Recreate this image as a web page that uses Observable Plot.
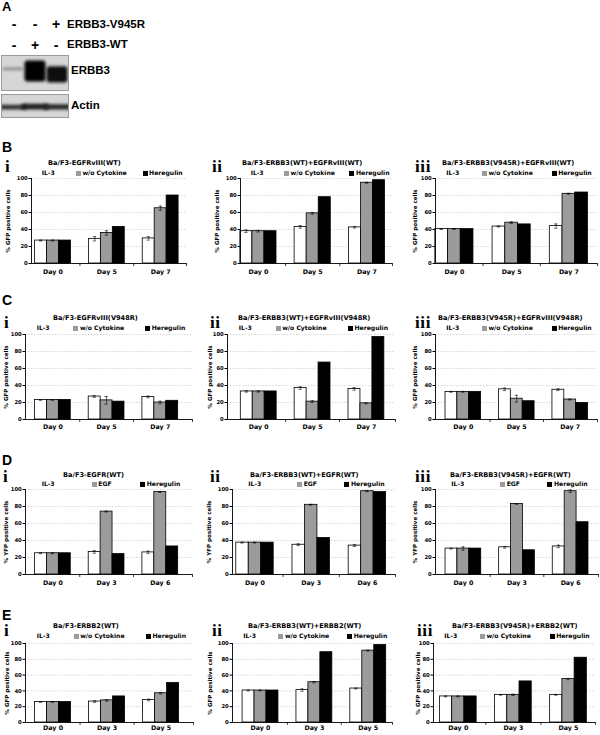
<!DOCTYPE html>
<html><head><meta charset="utf-8">
<script src="https://cdn.jsdelivr.net/npm/d3@7"></script>
<script src="https://cdn.jsdelivr.net/npm/@observablehq/plot@0.6"></script>
<style>
body{margin:0;background:#fff}
#fig{position:relative;width:600px;height:735px;overflow:hidden;font-family:"DejaVu Sans",sans-serif;color:#000}
.abs{position:absolute;white-space:nowrap;line-height:1;transform:translateY(-50%)}
.title{font-weight:bold;font-size:6.6px}
.leg{font-weight:bold;font-size:6.1px}
.sw{display:inline-block;width:5px;height:5px;margin-right:1.5px;vertical-align:-0.5px}
.roman{position:absolute;line-height:12px;font-family:"Liberation Serif",serif;font-weight:bold;font-size:17px;letter-spacing:0.6px}
.pl{position:absolute;line-height:1;font-family:"Liberation Sans",Arial,sans-serif;font-weight:bold;font-size:14px}
.wb{font-family:"Liberation Sans",Arial,sans-serif;font-weight:bold;font-size:11.5px}
.chart{position:absolute}
#fig svg g[aria-label="x-axis tick label"] text{font-size:6.3px}
</style></head><body><div id="fig"></div><script>
// ---------- Panel A (western blot) ----------
const lanes = ["1","2","3"];
const signsV945R = ["-","-","+"];
const signsWT = ["-","+","-"];
const erbb3Center = [0.62, 0.56, 0.46];
const erbb3Thick = [0.08, 0.62, 0.48];
const erbb3Tone = [0.55, 1.0, 0.95];
const actinCenter = [0.45, 0.47, 0.46];
const actinThick = [0.22, 0.26, 0.24];
const actinTone = [0.85, 0.9, 0.88];

// ---------- Bar charts ----------
const seriesGFP = ["IL-3", "w/o Cytokine", "Heregulin"];
const seriesYFP = ["IL-3", "EGF", "Heregulin"];
const barColors = ["#ffffff", "#9b9b9b", "#000000"];
const daysB = ["Day 0", "Day 5", "Day 7"];
const daysC = ["Day 0", "Day 5", "Day 7"];
const daysD = ["Day 0", "Day 3", "Day 6"];
const daysE = ["Day 0", "Day 3", "Day 5"];
const labelGFP = "% GFP positive cells";
const labelYFP = "% YFP positive cells";

// values: [day][series]
const valBi = [[27,27,27],[29,36,43],[29.5,65,80]];
const errBi = [[0.5,0.5,0],[2.5,2.5,0],[2,2.5,0]];
const valBii = [[38,38,38],[43,59,78],[42.5,95,98]];
const errBii = [[1.5,1,0],[1.5,1,0],[0.8,0.5,0]];
const valBiii = [[40.5,40.5,40.5],[43.5,48,46],[44,82,83.5]];
const errBiii = [[0.5,0.5,0],[0.5,1,0],[2.5,0.5,0]];
const valCi = [[23,23,23],[27,22.5,21],[26.5,20,22]];
const errCi = [[0.5,0.5,0],[1,4.5,0],[1,1.5,0]];
const valCii = [[33,33,33],[37,21,67],[36,19,97]];
const errCii = [[0.8,0.8,0],[1.5,1,0],[1.5,0.5,0]];
const valCiii = [[32.5,32.5,32.5],[35.5,24.5,21.5],[35,23.5,19.5]];
const errCiii = [[0.5,0.5,0],[1.5,4,0],[1,0.5,0]];
const valDi = [[25,25,25],[26.5,74,24],[26,97,33]];
const errDi = [[0.5,0.5,0],[1.5,0.5,0],[1.5,0.5,0]];
const valDii = [[37.5,37.5,37.5],[35,82,43],[34,98,97]];
const errDii = [[0.5,0.5,0],[1,0.5,0],[1,0.5,0]];
const valDiii = [[30.5,30.5,30.5],[32,83,28.5],[33,98,61.5]];
const errDiii = [[0.5,2,0],[1,0.5,0],[1.5,1.5,0]];
const valEi = [[26,26,26],[26.5,28,33],[28.5,37,50]];
const errEi = [[0.5,0.5,0],[1,1,0],[1,0.8,0]];
const valEii = [[40.5,40.5,40.5],[41,51,89],[43,91,98]];
const errEii = [[0.5,0.5,0],[1.5,0.8,0],[0.5,0.5,0]];
const valEiii = [[33,33,33],[35,35,52],[35,55,82]];
const errEiii = [[0.5,0.5,0],[0.5,0.8,0],[0.5,0.8,0]];

const titles = {
  Bi:"Ba/F3-EGFRvIII(WT)", Bii:"Ba/F3-ERBB3(WT)+EGFRvIII(WT)", Biii:"Ba/F3-ERBB3(V945R)+EGFRvIII(WT)",
  Ci:"Ba/F3-EGFRvIII(V948R)", Cii:"Ba/F3-ERBB3(WT)+EGFRvIII(V948R)", Ciii:"Ba/F3-ERBB3(V945R)+EGFRvIII(V948R)",
  Di:"Ba/F3-EGFR(WT)", Dii:"Ba/F3-ERBB3(WT)+EGFR(WT)", Diii:"Ba/F3-ERBB3(V945R)+EGFR(WT)",
  Ei:"Ba/F3-ERBB2(WT)", Eii:"Ba/F3-ERBB3(WT)+ERBB2(WT)", Eiii:"Ba/F3-ERBB3(V945R)+ERBB2(WT)"
};

// layout (positions only)
const rowLayout = {
  B:{yTop:178,yBot:263,titleY:163,romanBase:173,legY:173,pad:6,letterBase:152},
  C:{yTop:334,yBot:419,titleY:318,romanBase:329,legY:328,pad:5.5,letterBase:305},
  D:{yTop:489,yBot:574,titleY:475,romanBase:483,legY:484,pad:6,letterBase:465},
  E:{yTop:643,yBot:722,titleY:626,romanBase:637,legY:636,pad:3.5,letterBase:620}
};
const charts = [
  {k:"Bi",row:"B",r:"i",val:valBi,err:errBi,days:daysB,series:seriesGFP,yl:labelGFP,x0:31,x1:186,dom:[-0.4,2.48],tx:48,rx:5,ldx:-23},
  {k:"Bii",row:"B",r:"ii",val:valBii,err:errBii,days:daysB,series:seriesGFP,yl:labelGFP,x0:240,x1:392,dom:[-0.33,2.47],tx:242,rx:212,ldx:-23.5},
  {k:"Biii",row:"B",r:"iii",val:valBiii,err:errBiii,days:daysB,series:seriesGFP,yl:labelGFP,x0:435,x1:597,dom:[-0.33,2.5],tx:442,rx:415,ldx:-20.5},
  {k:"Ci",row:"C",r:"i",val:valCi,err:errCi,days:daysC,series:seriesGFP,yl:labelGFP,x0:25,x1:192,dom:[-0.51,2.6],tx:53,rx:4,ldx:-19},
  {k:"Cii",row:"C",r:"ii",val:valCii,err:errCii,days:daysC,series:seriesGFP,yl:labelGFP,x0:227,x1:395,dom:[-0.58,2.54],tx:238,rx:210,ldx:-17},
  {k:"Ciii",row:"C",r:"iii",val:valCiii,err:errCiii,days:daysC,series:seriesGFP,yl:labelGFP,x0:435,x1:597,dom:[-0.52,2.51],tx:438,rx:415,ldx:-20},
  {k:"Di",row:"D",r:"i",val:valDi,err:errDi,days:daysD,series:seriesYFP,yl:labelYFP,x0:25,x1:192,dom:[-0.51,2.6],tx:63,rx:3,ldx:-19},
  {k:"Dii",row:"D",r:"ii",val:valDii,err:errDii,days:daysD,series:seriesYFP,yl:labelYFP,x0:232,x1:395,dom:[-0.4,2.5],tx:250,rx:210,ldx:-23},
  {k:"Diii",row:"D",r:"iii",val:valDiii,err:errDiii,days:daysD,series:seriesYFP,yl:labelYFP,x0:435,x1:598,dom:[-0.52,2.52],tx:450,rx:415,ldx:-20},
  {k:"Ei",row:"E",r:"i",val:valEi,err:errEi,days:daysE,series:seriesGFP,yl:labelGFP,x0:25,x1:193,dom:[-0.51,2.6],tx:53,rx:4,ldx:-18},
  {k:"Eii",row:"E",r:"ii",val:valEii,err:errEii,days:daysE,series:seriesGFP,yl:labelGFP,x0:232,x1:392,dom:[-0.52,2.45],tx:248,rx:212,ldx:-22},
  {k:"Eiii",row:"E",r:"iii",val:valEiii,err:errEiii,days:daysE,series:seriesGFP,yl:labelGFP,x0:433,x1:595,dom:[-0.45,2.49],tx:452,rx:417,ldx:-15.5}
];
const legFracGFP = [0.07, 0.29, 0.72];
const legFracYFP = [0.1, 0.4, 0.69];

const fig = document.getElementById("fig");
function addDiv(cls, x, y, html, extra){
  const d = document.createElement("div");
  d.className = cls; d.style.left = x + "px"; d.style.top = y + "px";
  d.innerHTML = html; if (extra) Object.assign(d.style, extra);
  fig.appendChild(d); return d;
}
function place(el, x, y){
  const w = document.createElement("div"); w.className = "chart";
  w.style.left = x + "px"; w.style.top = y + "px"; w.appendChild(el); fig.appendChild(w);
}

// ---- Panel A ----
addDiv("pl", 2, 12 - 11.9, "A", {fontSize:"13px"});
const signData = lanes.flatMap((l, i) => [{lane:l, row:"V945R", s:signsV945R[i]}, {lane:l, row:"WT", s:signsWT[i]}]);
place(Plot.plot({
  width:66, height:40, margin:0,
  x:{type:"band", domain:lanes, range:[0,66], axis:null},
  y:{type:"point", domain:["V945R","WT"], range:[10,31], padding:0, axis:null},
  style:{background:"transparent"},
  marks:[Plot.text(signData, {x:"lane", y:"row", text:"s", fontSize:14, fontWeight:"bold", fontFamily:"Liberation Sans"})]
}), 1, 14);
addDiv("abs wb", 67, 25, "ERBB3-V945R");
addDiv("abs wb", 67, 45, "ERBB3-WT");
addDiv("abs wb", 71, 71, "ERBB3");
addDiv("abs wb", 71, 106, "Actin");

function blot(center, thick, tone, h, id, inset){
  const idx = lanes.map((_, i) => i);
  const svg = Plot.plot({
    width:66, height:h, margin:0,
    x:{type:"band", domain:lanes, range:[0,66], padding:0, axis:null},
    y:{domain:[0,1], axis:null},
    color:{type:"identity"},
    style:{background:"#d6d6d6", border:"1px solid #9a9a9a"},
    marks:[Plot.barY(idx, {x:i => lanes[i], y1:i => center[i] - thick[i]/2, y2:i => center[i] + thick[i]/2,
      fill:i => d3.interpolateGreys(tone[i]), insetLeft:inset, insetRight:inset, rx:3})]
  });
  const ns = "http://www.w3.org/2000/svg";
  const defs = document.createElementNS(ns, "defs");
  const filt = document.createElementNS(ns, "filter");
  filt.setAttribute("id", id);
  filt.setAttribute("x", "-50%"); filt.setAttribute("y", "-100%");
  filt.setAttribute("width", "200%"); filt.setAttribute("height", "300%");
  const fe = document.createElementNS(ns, "feGaussianBlur");
  fe.setAttribute("stdDeviation", "1.5");
  filt.appendChild(fe); defs.appendChild(filt);
  svg.insertBefore(defs, svg.firstChild);
  svg.querySelectorAll("rect").forEach(r => r.setAttribute("filter", `url(#${id})`));
  return svg;
}
place(blot(erbb3Center, erbb3Thick, erbb3Tone, 34, "blurE", 0.5), 1, 55);
place(blot(actinCenter, actinThick, actinTone, 22, "blurA", -3), 1, 94);

// ---- Bar charts ----
const doneRows = new Set();
for (const c of charts) {
  const L = rowLayout[c.row];
  if (!doneRows.has(c.row)) { doneRows.add(c.row); addDiv("pl", 2, L.letterBase - 11.9, c.row); }
  const ML = 30, MR = 2, MT = 3, MB = 16;
  const W = c.x1 - c.x0 + ML + MR, H = L.yBot - L.yTop + MT + MB;
  const rows = [];
  c.val.forEach((arr, di) => arr.forEach((v, si) => rows.push({di, si, v, e:c.err[di][si], s:c.series[si]})));
  const bw = 0.222;
  const left = d => d.di + (d.si - 1.5) * bw, right = d => d.di + (d.si - 0.5) * bw, mid = d => d.di + (d.si - 1) * bw;
  const eb = rows.filter(d => d.e > 0);
  const [lo, hi] = c.dom;
  const svg = Plot.plot({
    width:W, height:H, marginLeft:ML, marginRight:MR, marginTop:MT, marginBottom:MB,
    style:{fontFamily:"DejaVu Sans", fontSize:"5.3px", fontWeight:"bold", background:"transparent", color:"#000", overflow:"visible"},
    x:{domain:[lo, hi], ticks:[0,1,2], tickFormat:i => c.days[i], tickSize:0, tickPadding:L.pad, label:null},
    y:{domain:[0,100], ticks:[0,20,40,60,80,100], tickSize:2.5, tickPadding:1.2, label:null},
    color:{domain:c.series, range:barColors},
    marks:[
      Plot.ruleY([20,40,60,80,100], {stroke:"#c6c6c6", strokeDasharray:"1.5,1.5", strokeWidth:0.7}),
      Plot.rectY(rows, {x1:left, x2:right, y1:0, y2:"v", fill:"s", stroke:"#000", strokeWidth:0.8}),
      Plot.ruleX(eb, {x:mid, y1:d => d.v - d.e, y2:d => d.v + d.e, stroke:"#000", strokeWidth:0.6}),
      Plot.ruleY(eb, {x1:d => mid(d) - 0.03, x2:d => mid(d) + 0.03, y:d => d.v + d.e, stroke:"#000", strokeWidth:0.6}),
      Plot.ruleY(eb, {x1:d => mid(d) - 0.03, x2:d => mid(d) + 0.03, y:d => d.v - d.e, stroke:"#000", strokeWidth:0.6}),
      Plot.ruleX([lo], {y1:0, y2:100, stroke:"#000", strokeWidth:0.9}),
      Plot.ruleY([0], {stroke:"#000", strokeWidth:0.9}),
      Plot.ruleX([0.5, 1.5, hi], {y1:0, y2:-3.5, stroke:"#000", strokeWidth:0.8}),
      Plot.text([c.yl], {frameAnchor:"left", textAnchor:"middle", dx:c.ldx, rotate:-90, fontSize:5.6})
    ]
  });
  place(svg, c.x0 - ML, L.yTop - MT);
  addDiv("abs title", c.tx, L.titleY, titles[c.k]);
  addDiv("roman", c.rx, L.romanBase - 11.74, c.r);
  const fr = c.series === seriesYFP ? legFracYFP : legFracGFP;
  const pw = c.x1 - c.x0;
  c.series.forEach((s, i) => {
    const sw = i === 0 ? "" : `<span class="sw" style="background:${barColors[i]}"></span>`;
    addDiv("abs leg", c.x0 + fr[i] * pw, L.legY, sw + s);
  });
}
</script></body></html>
